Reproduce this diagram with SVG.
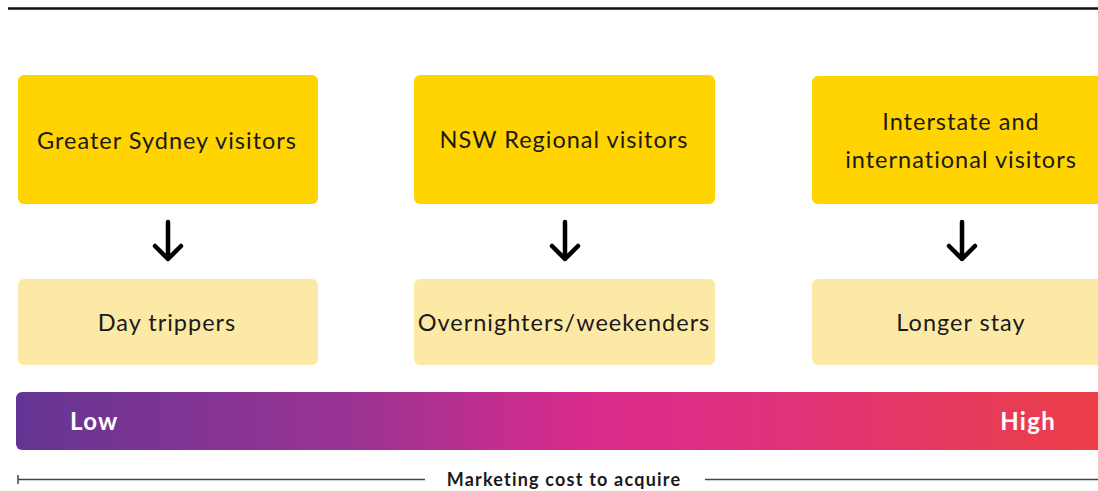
<svg xmlns="http://www.w3.org/2000/svg" width="1098" height="491" viewBox="0 0 1098 491">
<defs>
<style>
.top{fill:#ffd400}
.bot{fill:#fde9a6}
.t{font-family:Lato,"Noto Sans",sans-serif;font-size:23.5px;letter-spacing:1px;fill:#1a1a1a;text-anchor:middle}
.arrow{stroke:#000;stroke-width:4.5;fill:none;stroke-linecap:round;stroke-linejoin:round}
.lbl{font-family:Lato,"Noto Sans",sans-serif;font-size:24px;letter-spacing:1.3px;font-weight:bold;fill:#fff}
</style>
<linearGradient id="g" x1="0" y1="0" x2="1" y2="0">
<stop offset="0" stop-color="#643594"/>
<stop offset="0.3" stop-color="#9a3393"/>
<stop offset="0.53" stop-color="#d92b8c"/>
<stop offset="0.7" stop-color="#e0327a"/>
<stop offset="1" stop-color="#ec4046"/>
</linearGradient>
</defs>
<rect width="1098" height="491" fill="#fff"/>
<line x1="8" y1="8.5" x2="1098" y2="8.5" stroke="#111" stroke-width="2.5"/>
<g id="n1"><rect class="top" x="18" y="75" width="300" height="129" rx="6"/><text class="t" x="167" y="149">Greater Sydney visitors</text></g>
<g id="n2"><rect class="top" x="414" y="75" width="301" height="129" rx="6"/><text class="t" x="564" y="148">NSW Regional visitors</text></g>
<g id="n3"><rect class="top" x="812" y="76" width="296" height="128" rx="6"/><text class="t" x="961" y="130">Interstate and</text><text class="t" x="961" y="168">international visitors</text></g>
<g id="m1"><rect class="bot" x="18" y="279" width="300" height="86" rx="6"/><text class="t" x="167" y="331">Day trippers</text></g>
<g id="m2"><rect class="bot" x="414" y="279" width="301" height="86" rx="6"/><text class="t" x="564" y="331">Overnighters/weekenders</text></g>
<g id="m3"><rect class="bot" x="812" y="279" width="296" height="86" rx="6"/><text class="t" x="961" y="331">Longer stay</text></g>
<g id="connectors">
<path class="arrow" d="M168 222V259M155 246L168 259L181 246"/>
<path class="arrow" d="M565 222V259M552 246L565 259L578 246"/>
<path class="arrow" d="M962 222V259M949 246L962 259L975 246"/>
</g>
<g id="scale">
<rect x="16" y="392" width="1092" height="58" rx="6" fill="url(#g)"/>
<text class="lbl" x="70" y="430">Low</text>
<text class="lbl" x="1056" y="430" text-anchor="end">High</text>
<line x1="18" y1="479.5" x2="425" y2="479.5" stroke="#444" stroke-width="1.5"/>
<line x1="18" y1="475" x2="18" y2="484" stroke="#444" stroke-width="1.5"/>
<line x1="705" y1="479.5" x2="1098" y2="479.5" stroke="#444" stroke-width="1.5"/>
<text x="564" y="486" font-family="Lato,'Noto Sans',sans-serif" font-size="18" letter-spacing="1.2" font-weight="bold" fill="#1a1a1a" text-anchor="middle">Marketing cost to acquire</text>
</g>
</svg>
